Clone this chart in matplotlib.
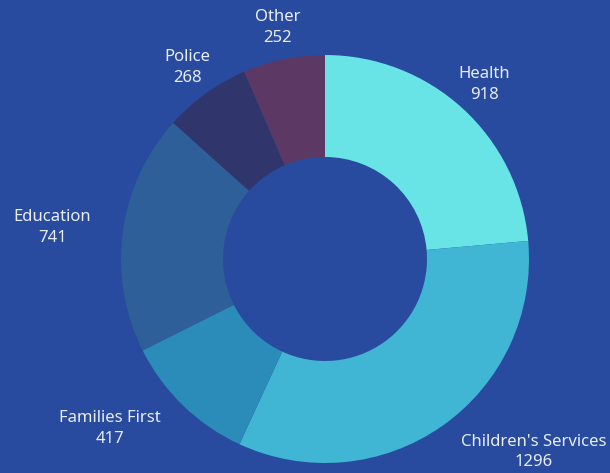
import numpy as np
import matplotlib
matplotlib.use("Agg")
import matplotlib.pyplot as plt

labels = ["Health", "Children's Services", "Families First", "Education", "Police", "Other"]
values = [918, 1296, 417, 741, 268, 252]
colors = ["#68e4e6", "#40b6d4", "#2b8bb9", "#2e5f98", "#30356c", "#5c3865"]

bg = "#294b9f"
text_color = "#e8eef8"


def main():
    plt.rcParams['font.family'] = ['Noto Sans', 'DejaVu Sans']
    fig = plt.figure(figsize=(6.10, 4.73), dpi=100, facecolor=bg)
    ax = fig.add_axes([0, 0, 1, 1])
    ax.set_facecolor(bg)

    ax.pie(values, colors=colors, startangle=90, counterclock=False,
           radius=1.0, wedgeprops=dict(width=0.5, linewidth=0))

    # pie() resets the limits, so set them afterwards
    r_px = 204.0  # outer radius in pixels
    cx, cy = 325.0, 214.0  # centre from bottom-left, pixels
    ax.set_xlim(-cx / r_px, (610 - cx) / r_px)
    ax.set_ylim(-cy / r_px, (473 - cy) / r_px)
    ax.set_aspect('equal')
    ax.axis('off')

    total = float(sum(values))
    start = 0.0
    for name, v in zip(labels, values):
        mid = (start + v / 2.0) / total * 2 * np.pi  # clockwise from top
        start += v
        s, c = np.sin(mid), np.cos(mid)
        rl = 1.157
        x, y = rl * s, rl * c
        if c > 0.707:
            ha = 'center'
        elif s > 0:
            ha = 'left'
        else:
            ha = 'right'
        ax.text(x, y, f"{name}\n{v}", ha=ha, va='center', multialignment='center',
                color=text_color, fontsize=12, linespacing=1.4)

    fig.savefig("out.png", dpi=100, facecolor=bg)


if __name__ == '__main__':
    main()
